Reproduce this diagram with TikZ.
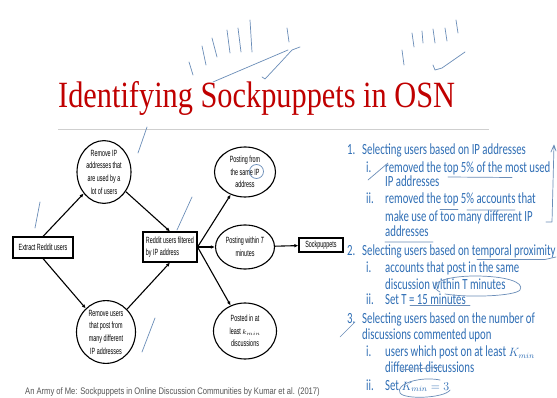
\documentclass[tikz,border=0pt]{standalone}
\usepackage{fontspec}
\setmainfont{Liberation Serif}
\newfontfamily\titlefont[FakeStretch=0.82]{Liberation Serif}
\newfontfamily\dgfont[FakeStretch=0.6]{Liberation Sans}
\newfontfamily\listfont[FakeStretch=0.695]{Carlito}
\newfontfamily\capfont[FakeStretch=0.8]{Liberation Sans}
\usetikzlibrary{arrows.meta,shapes.geometric}
\definecolor{tred}{HTML}{C00000}
\definecolor{lblue}{HTML}{2F6EB5}
\definecolor{inkblue}{HTML}{6A8DB8}
\definecolor{rulegrey}{HTML}{CFCFCF}
\definecolor{capgrey}{HTML}{555555}
\newcommand{\kmin}[1]{{\fontsize{12}{14}\selectfont$#1$}}
\tikzset{
  box/.style={draw,line width=1.1pt,inner sep=1.5pt,align=left,
              font=\dgfont\fontsize{9}{12}\selectfont},
  oval/.style={draw,ellipse,line width=1.1pt,inner sep=0pt,align=center,
               font=\dgfont\fontsize{9}{12.7}\selectfont},
  arr/.style={-{Latex[length=4pt,width=3.5pt]},line width=1.1pt},
  lst/.style={anchor=base west,inner sep=0pt,text=lblue,
              font=\listfont\fontsize{15.5}{17}\selectfont},
  inkline/.style={inkblue,line width=0.7pt,line cap=round,line join=round},
}
\begin{document}
\begin{tikzpicture}[x=1pt,y=-1pt]
\useasboundingbox (0,0) rectangle (557,398);
\fill[white] (0,0) rectangle (557,398);
% title
\node[anchor=base west,inner sep=0pt,text=tred,font=\titlefont\fontsize{37}{40}\selectfont]
  (title) at (58,108) {Identifying Sockpuppets in OSN};
\draw[rulegrey,line width=0.8pt] (58,129.5) -- (489,129.5);
% flow chart
\node[box,minimum width=60pt,minimum height=21pt] (extract) at (43,247.5) {Extract Reddit users};
\node[oval,minimum width=54pt,minimum height=54pt] (rmip) at (104,172)
  {Remove IP\\addresses that\\are used by a\\lot of users};
\node[oval,minimum width=59pt,minimum height=54pt] (rmusers) at (106,332)
  {Remove users\\that post from\\many different\\IP addresses};
\node[box,minimum width=54pt,minimum height=30pt] (filt) at (170,247)
  {Reddit users filtered\\by IP address};
\node[oval,minimum width=61pt,minimum height=50pt] (sameip) at (245,172)
  {Posting from\\the same IP\\address};
\node[oval,minimum width=59pt,minimum height=44pt] (within) at (245,247)
  {Posting within \textit{T}\\minutes};
\node[oval,minimum width=63pt,minimum height=56pt] (posted) at (245,331)
  {Posted in at\\least {\fontsize{7}{8}\selectfont$k_{min}$}\\discussions};
\node[box,align=center,minimum width=44pt,minimum height=14pt] (sock) at (321,245) {Sockpuppets};
\draw[arr] (extract.north) -- (rmip);
\draw[arr] (rmip) -- (filt.north);
\draw[arr] (extract.south) -- (rmusers);
\draw[arr] (rmusers) -- (filt.south);
\foreach \t in {sameip,within,posted} \draw[arr] (filt.east) -- (\t);
\draw[arr] (within) -- (sock);
% steps
\foreach \n/\y/\t in {a/155/1., b/255/2., c/323.3/3.} \node[lst] (num\n) at (347,\y) {\t};
\foreach \n/\y/\t in {a1/172.7/i., a2/204/ii., b1/272.7/i., b2/305/ii., c1/356.7/i., c2/390/ii.}
  \node[lst] (sub\n) at (366,\y) {\t};
\foreach \n/\x/\y/\t in {
  1/362/155/{Selecting users based on IP addresses},
  2/385/172.7/{removed the top 5\% of the most used},
  3/385/186.7/{IP addresses},
  4/385/204/{removed the top 5\% accounts that},
  5/385/221.7/{make use of too many different IP},
  6/385/236.7/{addresses},
  7/362/255/{Selecting users based on temporal proximity},
  8/385/272.7/{accounts that post in the same},
  9/385/289/{discussion within T minutes},
  10/385/305/{Set T = 15 minutes},
  11/362/323.3/{Selecting users based on the number of},
  12/362/339.3/{discussions commented upon},
  13/385/356.7/{users which post on at least \kmin{K_{min}}},
  14/385/372.7/{different discussions},
  15/385/390/{Set \kmin{K_{min} = 3}}}
  \node[lst] (ln\n) at (\x,\y) {\t};
% source
\node[anchor=base west,inner sep=0pt,text=capgrey,font=\capfont\fontsize{9.5}{11}\selectfont]
  (source) at (25,394)
  {An Army of Me: Sockpuppets in Online Discussion Communities by Kumar et al. (2017)};
% pen marks
\draw[inkline] (189,62) -- (193,75) (202,46) -- (206,65) (212,38) -- (217,57)
  (227,30) -- (230,53) (238,28) -- (241,52) (250,20) -- (252,52) (287,28) -- (289,42);
\draw[inkline] (213,82) -- (288,50) (262,77) -- (265,79) -- (280,63) -- (292,50) -- (300,47);
\draw[inkline] (402,50) -- (404,65) (412,33) -- (414,47) (422,31) -- (423,43)
  (433,29) -- (435,43) (445,28) -- (447,41) (456,20) -- (458,33);
\draw[inkline] (433,65) -- (435,70) -- (442,68) -- (465,52);
\draw[inkline] (138,153) -- (147,127) (35,228) -- (40,202) (177,230) -- (192,197)
  (142,352) -- (155,318);
\draw[inkline] (256.5,171.5) circle (7);
\draw[inkline] (368,180) -- (388,163) (448,177) -- (512,177.5)
  (440,209.5) -- (458,209.5) (467,210) -- (515,210) (385,242) -- (433,242);
\draw[inkline] (554,145) -- (552,222) -- (546,222) (551,152) -- (554,145) -- (556,151);
\draw[inkline] (477,259.5) -- (545,259.5) -- (556,257);
\draw[inkline] (440,292) .. controls (425,284) and (445,276) .. (475,276)
  .. controls (505,276) and (525,282) .. (520,290) .. controls (515,296) and (470,298) .. (445,294);
\draw[inkline] (410,305.5) -- (470,305.5) (340,337) -- (355,322) (400,370) -- (443,367);
\draw[inkline] (440,380) .. controls (420,376) and (395,384) .. (400,393)
  .. controls (405,400) and (445,398) .. (450,390);
\end{tikzpicture}
\end{document}
